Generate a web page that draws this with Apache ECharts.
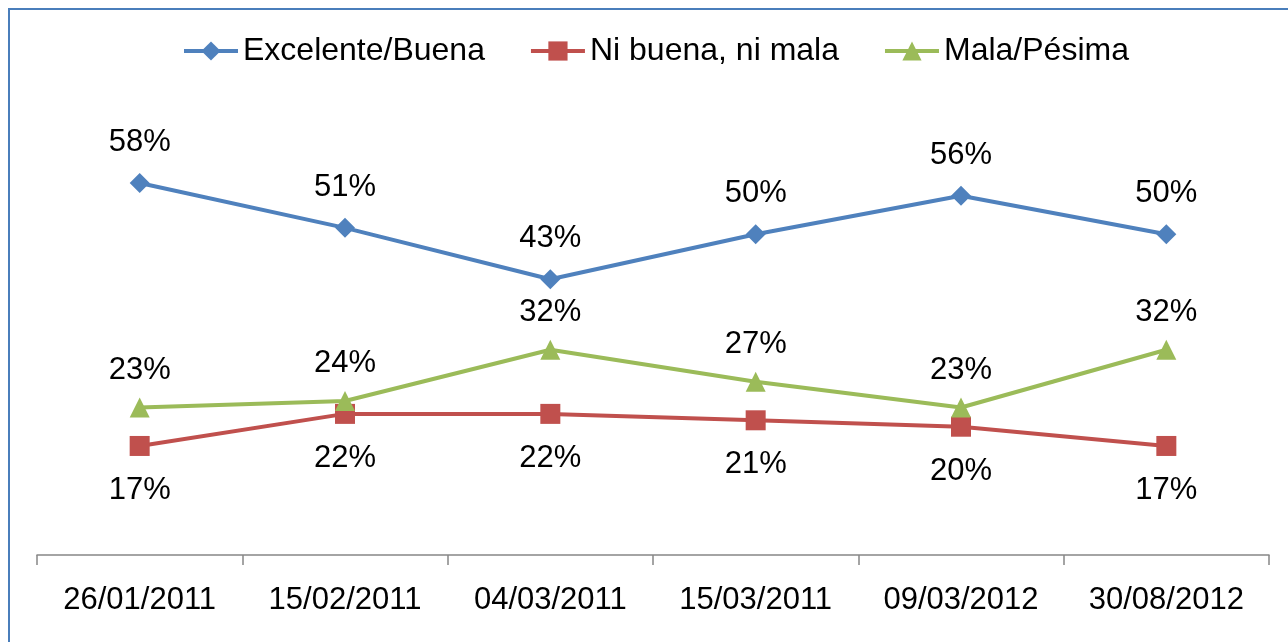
<!DOCTYPE html>
<html>
<head>
<meta charset="utf-8">
<script src="https://cdn.jsdelivr.net/npm/echarts@6/dist/echarts.min.js"></script>
<style>
    html, body { margin: 0; padding: 0; background: #fff; }
    #chart { width: 1288px; height: 642px; position: relative; }
    #frame { position: absolute; left: 8px; top: 8px; width: 1290px; height: 650px;
             border-left: 2px solid #4A7EBB; border-top: 2px solid #4A7EBB; pointer-events: none; }
</style>
</head>
<body>
<div id="chart"></div>
<div id="frame"></div>
<script>
    "use strict";
    var fechas = ['26/01/2011', '15/02/2011', '04/03/2011', '15/03/2011', '09/03/2012', '30/08/2012'];
    var excelenteBuena = [58, 51, 43, 50, 56, 50];
    var niBuenaNiMala = [17, 22, 22, 21, 20, 17];
    var malaPesima = [23, 24, 32, 27, 23, 32];

    var fuente = 'Liberation Sans, Arial, sans-serif';
    var chart = echarts.init(document.getElementById('chart'), null, {renderer: 'canvas'});

    function serie(nombre, datos, color, simbolo, tam, pos, dist) {
        return {
            name: nombre,
            type: 'line',
            data: datos,
            symbol: simbolo,
            symbolSize: tam,
            showAllSymbol: true,
            lineStyle: { color: color, width: 4 },
            itemStyle: { color: color },
            label: {
                show: true,
                position: pos,
                distance: dist,
                formatter: '{c}%',
                color: '#000',
                fontSize: 31,
                fontFamily: fuente
            },
            emphasis: { disabled: true },
            animation: false
        };
    }

    var option = {
        backgroundColor: '#fff',
        textStyle: { fontFamily: fuente },
        legend: {
            top: 30,
            left: 177,
            itemWidth: 54,
            itemHeight: 24,
            itemGap: 44,
            lineStyle: { width: 4 },
            textStyle: { fontSize: 32, color: '#000', fontFamily: fuente },
            data: ['Excelente/Buena', 'Ni buena, ni mala', 'Mala/Pésima']
        },
        grid: { left: 37, right: 19, top: 106, bottom: 87 },
        xAxis: {
            type: 'category',
            data: fechas,
            boundaryGap: true,
            axisLine: { lineStyle: { color: '#868686', width: 1.5 } },
            axisTick: { show: true, length: 10, lineStyle: { color: '#868686', width: 1.5 } },
            axisLabel: { color: '#000', fontSize: 31, margin: 30, interval: 0, fontFamily: fuente }
        },
        yAxis: {
            type: 'value',
            min: 0,
            max: 70,
            show: false,
            splitLine: { show: false }
        },
        series: [
            serie('Excelente/Buena', excelenteBuena, '#4F81BD', 'diamond', 20, 'top', 15),
            serie('Ni buena, ni mala', niBuenaNiMala, '#C0504D', 'rect', 20, 'bottom', 19),
            serie('Mala/Pésima', malaPesima, '#9BBB59', 'triangle', 20, 'top', 12)
        ]
    };
    chart.setOption(option);
</script>
</body>
</html>
